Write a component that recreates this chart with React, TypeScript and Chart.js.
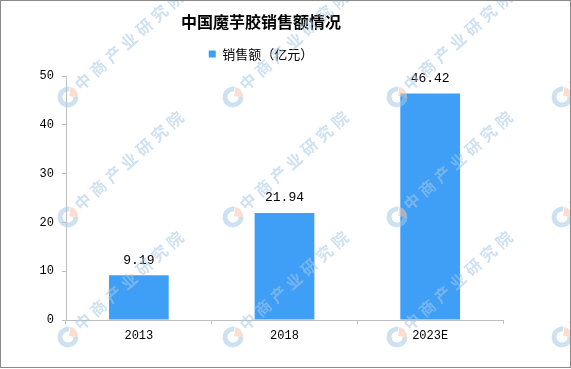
import React, { useEffect, useRef } from 'react';
import { Chart, registerables } from 'chart.js';

Chart.register(...registerables);

// ---- data ----
const categories: string[] = ['2013', '2018', '2023E'];
const salesValues: number[] = [9.19, 21.94, 46.42];
const valueLabels: string[] = ['9.19', '21.94', '46.42'];
const yTickValues: number[] = [0, 10, 20, 30, 40, 50];
const chartTitle = '中国魔芋胶销售额情况';
const seriesName = '销售额（亿元）';
const watermarkText = '中商产业研究院';

const BAR_COLOR = '#3F9EF5';
const AXIS_COLOR = '#BFBFBF';
const CJK = '"Noto Sans CJK SC", "Noto Sans", sans-serif';
const MONO = '"Liberation Mono", "DejaVu Sans Mono", monospace';

const dataLabelPlugin = {
  id: 'dataLabels',
  afterDatasetsDraw(chart: any) {
    const ctx = chart.ctx;
    const meta = chart.getDatasetMeta(0);
    ctx.save();
    ctx.font = `13px ${MONO}`;
    ctx.fillStyle = '#000';
    ctx.textAlign = 'center';
    ctx.textBaseline = 'middle';
    meta.data.forEach((bar: any, i: number) => {
      ctx.fillText(valueLabels[i], bar.x, bar.y - 15);
    });
    ctx.restore();
  },
};

const watermarkPlugin = {
  id: 'watermark',
  afterDraw(chart: any) {
    const ctx = chart.ctx;
    const xs = [68, 233, 397, 562];
    const ys = [-23, 97, 217, 337];
    ctx.save();
    ctx.globalAlpha = 0.55;
    for (const lx of xs) {
      for (const ly of ys) {
        // logo
        ctx.lineWidth = 5;
        ctx.strokeStyle = 'rgb(165,200,230)';
        ctx.beginPath();
        ctx.arc(lx, ly, 8, Math.PI * 0.45, Math.PI * 1.55);
        ctx.stroke();
        ctx.beginPath();
        ctx.arc(lx, ly, 8, Math.PI * 0.45, Math.PI * 0.0, true);
        ctx.stroke();
        ctx.fillStyle = 'rgb(250,195,170)';
        ctx.beginPath();
        ctx.moveTo(lx + 1, ly - 1);
        ctx.arc(lx + 1, ly - 1, 9, -Math.PI * 0.45, Math.PI * 0.05);
        ctx.closePath();
        ctx.fill();
        // text
        ctx.save();
        ctx.translate(lx + 9, ly - 10);
        ctx.rotate(-41.7 * Math.PI / 180);
        ctx.fillStyle = 'rgb(165,200,230)';
        ctx.font = `bold 16px ${CJK}`;
        (ctx as any).letterSpacing = '4.5px';
        ctx.textAlign = 'left';
        ctx.textBaseline = 'middle';
        ctx.fillText(watermarkText, 0, 0);
        ctx.restore();
      }
    }
    ctx.restore();
    // frame
    ctx.save();
    ctx.strokeStyle = '#8A8A8A';
    ctx.lineWidth = 1;
    ctx.strokeRect(0.5, 0.5, 570, 367);
    ctx.restore();
  },
};

const whiteBg = {
  id: 'whiteBg',
  beforeDraw(chart: any) {
    const ctx = chart.ctx;
    ctx.save();
    ctx.fillStyle = '#fff';
    ctx.fillRect(0, 0, chart.width, chart.height);
    ctx.restore();
  },
};

export default function App() {
  const ref = useRef<HTMLCanvasElement | null>(null);

  useEffect(() => {
    if (!ref.current) return;
    const chart = new Chart(ref.current, {
      type: 'bar',
      data: {
        labels: categories,
        datasets: [
          {
            label: seriesName,
            data: salesValues,
            backgroundColor: BAR_COLOR,
            borderWidth: 0,
            barPercentage: 0.41,
            categoryPercentage: 1.0,
          },
        ],
      },
      options: {
        responsive: false,
        animation: false,
        devicePixelRatio: 1,
        layout: { padding: { left: 0, right: 49, top: 0, bottom: 0 } },
        plugins: {
          title: {
            display: true,
            text: chartTitle,
            color: '#000',
            font: { family: CJK, size: 16, weight: 'bold', lineHeight: 1.2 },
            padding: { top: 12, bottom: 10 },
          },
          subtitle: {
            display: true,
            text: '',
            weight: 500,
            font: { size: 1, lineHeight: 1 },
            padding: { top: 0, bottom: 4.5 },
          } as any,
          legend: {
            display: true,
            position: 'top',
            labels: {
              boxWidth: 7,
              boxHeight: 7,
              padding: 6.3,
              color: '#000',
              font: { family: CJK, size: 13 },
            },
          },
          tooltip: { enabled: false },
        },
        scales: {
          x: {
            offset: true,
            grid: {
              display: true,
              drawOnChartArea: false,
              drawTicks: true,
              tickLength: 4,
              color: AXIS_COLOR,
              offset: true,
            },
            border: { display: true, color: AXIS_COLOR, width: 1 },
            ticks: {
              color: '#000',
              font: { family: MONO, size: 12 },
              padding: 5,
            },
            afterFit(scale: any) {
              scale.height = 49;
            },
          },
          y: {
            min: 0,
            max: 50,
            afterBuildTicks(scale: any) {
              scale.ticks = yTickValues.map((v) => ({ value: v }));
            },
            grid: {
              display: true,
              drawOnChartArea: false,
              drawTicks: true,
              tickLength: 4,
              color: AXIS_COLOR,
            },
            border: { display: true, color: AXIS_COLOR, width: 1 },
            ticks: {
              color: '#000',
              font: { family: MONO, size: 12 },
              padding: 8,
            },
            afterFit(scale: any) {
              scale.width = 66;
            },
          },
          yRightSpacer: {
            position: 'right',
            display: true,
            grid: { display: false, drawTicks: false },
            border: { display: false },
            ticks: { display: false },
            afterFit(scale: any) {
              scale.width = 19;
            },
          } as any,
        },
      },
      plugins: [whiteBg, dataLabelPlugin, watermarkPlugin],
    });
    return () => chart.destroy();
  }, []);

  return (
    <div style={{ position: 'absolute', left: 0, top: 0, width: 571, height: 369 }}>
      <canvas ref={ref} width={571} height={369} style={{ display: 'block' }} />
    </div>
  );
}
